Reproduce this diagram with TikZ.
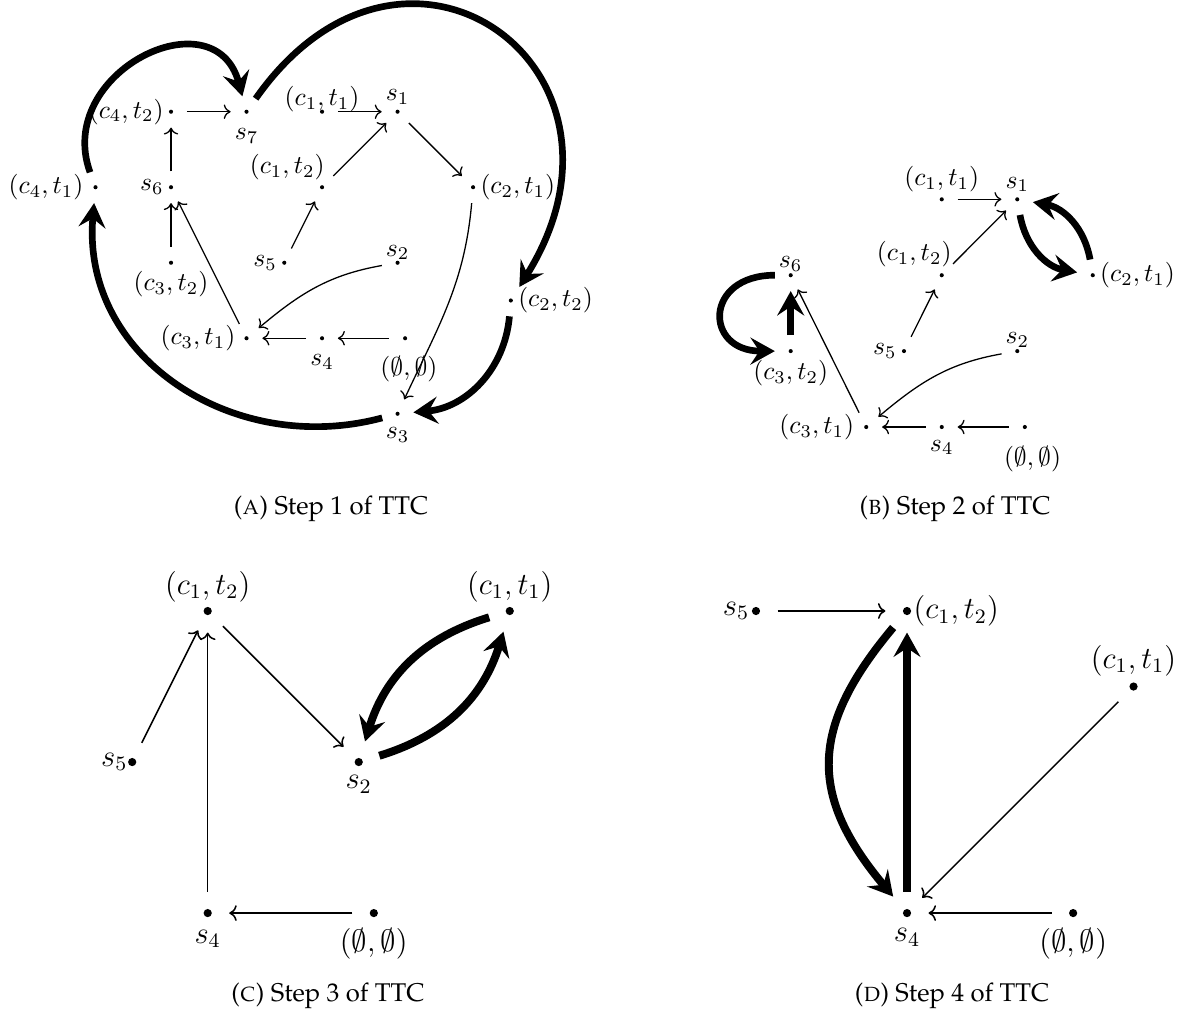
\documentclass[tikz,border=0pt]{standalone}
\usepackage{amsmath}
\usepackage{amssymb}
\usepackage[T1,TU]{fontenc}
\usepackage{tikz}
\usetikzlibrary{arrows.meta}

\newcommand{\capfont}{\fontencoding{T1}\fontfamily{ppl}\selectfont}

\tikzset{
  vtx/.style={circle,inner sep=0pt,minimum size=12pt,
    path picture={\fill (path picture bounding box.center) circle (0.8pt);}},
  bvtx/.style={circle,inner sep=0pt,minimum size=16.4pt,
    path picture={\fill (path picture bounding box.center) circle (1.6pt);}},
  arr/.style={->,line width=0.5pt},
  cyc/.style={-{Stealth[length=9.5pt,width=10.5pt,inset=3.5pt]},line width=2.6pt},
  capt/.style={anchor=base,font=\capfont},
  every label/.style={inner sep=1pt}
}

\begin{document}
\begin{tikzpicture}[x=0.39pt,y=-0.39pt,label distance=-4.5pt]
  \useasboundingbox (0,0) rectangle (1185,1011);

  % (a) step 1
  \begin{scope}[shift={(95.5,111.7)},x=29.45pt,y=29.45pt]
    \node[vtx,label={[label distance=-2.7pt]left:{$(c_4,t_1)$}}] (c4t1) at (0,-1) {};
    \node[vtx,label=left:{$(c_4,t_2)$}] (c4t2) at (1,0) {};
    \node[vtx,label={[label distance=-1pt]below:{$s_7$}}] (s7) at (2,0) {};
    \node[vtx,label={[label distance=-7.5pt]above:{$(c_1,t_1)$}}] (c1t1) at (3,0) {};
    \node[vtx,label=above:{$s_1$}] (s1) at (4,0) {};
    \node[vtx,label=left:{$s_6$}] (s6) at (1,-1) {};
    \node[vtx,label={[xshift=3.4pt,yshift=0.3pt]above left:{$(c_1,t_2)$}}] (c1t2) at (3,-1) {};
    \node[vtx,label=right:{$(c_2,t_1)$}] (c2t1) at (5,-1) {};
    \node[vtx,label={[label distance=-4pt]below:{$(c_3,t_2)$}}] (c3t2) at (1,-2) {};
    \node[vtx,label=left:{$s_5$}] (s5) at (2.5,-2) {};
    \node[vtx,label={[label distance=-6.3pt]above:{$s_2$}}] (s2) at (4,-2) {};
    \node[vtx,label=right:{$(c_2,t_2)$}] (c2t2) at (5.5,-2.5) {};
    \node[vtx,label={[label distance=-3pt]left:{$(c_3,t_1)$}}] (c3t1) at (2,-3) {};
    \node[vtx,label={[label distance=-1pt]below:{$s_4$}}] (s4) at (3,-3) {};
    \node[vtx,label={[label distance=-0.5pt,xshift=1.5pt]below:{$(\emptyset,\emptyset)$}}] (e) at (4.1,-3) {};
    \node[vtx,label={[label distance=-2pt]below:{$s_3$}}] (s3) at (4,-4) {};

    \draw[arr] (c4t2) -- (s7);
    \draw[arr] (c1t1) -- (s1);
    \draw[arr] (c1t2) -- (s1);
    \draw[arr] (s1) -- (c2t1);
    \draw[arr] (s6) -- (c4t2);
    \draw[arr] (c3t2) -- (s6);
    \draw[arr] (c3t1) -- (s6);
    \draw[arr] (s5) -- (c1t2);
    \draw[arr] (s4) -- (c3t1);
    \draw[arr] (e) -- (s4);
    \draw[arr] (s2) to[out=190,in=40] (c3t1);
    \draw[arr] (c2t1) to[out=265,in=65] (s3);

    \draw[cyc] (c4t1) to[out=110,in=105,looseness=1.6] (s7);
    \draw[cyc] (s7) to[out=55,in=58,looseness=2.05] (c2t2);
    \draw[cyc] (c2t2) to[bend left=40] (s3);
    \draw[cyc] (s3) to[out=195,in=265,looseness=1.1] (c4t1);
  \end{scope}
  \node[capt] (capA) at (331,514) {(\textsc{a}) Step 1 of TTC};

  % (b) step 2
  \begin{scope}[shift={(715.2,199.3)},x=29.45pt,y=29.6pt]
    \node[vtx,label=above:{$(c_1,t_1)$}] (c1t1) at (3,0) {};
    \node[vtx,label=above:{$s_1$}] (s1) at (4,0) {};
    \node[vtx,label={[label distance=-6pt]above:{$s_6$}}] (s6) at (1,-1) {};
    \node[vtx,label={[xshift=6.2pt,yshift=0.8pt]above left:{$(c_1,t_2)$}}] (c1t2) at (3,-1) {};
    \node[vtx,label=right:{$(c_2,t_1)$}] (c2t1) at (5,-1) {};
    \node[vtx,label={[label distance=-3.7pt]below:{$(c_3,t_2)$}}] (c3t2) at (1,-2) {};
    \node[vtx,label=left:{$s_5$}] (s5) at (2.5,-2) {};
    \node[vtx,label={[label distance=-6pt]above:{$s_2$}}] (s2) at (4,-2) {};
    \node[vtx,label={[label distance=-2.7pt]left:{$(c_3,t_1)$}}] (c3t1) at (2,-3) {};
    \node[vtx,label={[label distance=-2.3pt]below:{$s_4$}}] (s4) at (3,-3) {};
    \node[vtx,label={[label distance=0pt,xshift=3pt]below:{$(\emptyset,\emptyset)$}}] (e) at (4.1,-3) {};

    \draw[arr] (c1t1) -- (s1);
    \draw[arr] (c1t2) -- (s1);
    \draw[arr] (s5) -- (c1t2);
    \draw[arr] (c3t1) -- (s6);
    \draw[arr] (s4) -- (c3t1);
    \draw[arr] (e) -- (s4);
    \draw[arr] (s2) to[out=190,in=40] (c3t1);

    \draw[cyc] (s1) to[bend right=35] (c2t1);
    \draw[cyc] (c2t1) to[bend right=35] (s1);
    \draw[cyc] (c3t2) -- (s6);
    \draw[cyc] (s6) to[out=180,in=180,looseness=2.4] (c3t2);
  \end{scope}
  \node[capt] (capB) at (955,514) {(\textsc{b}) Step 2 of TTC};

  % (c) step 3
  \begin{scope}[shift={(207.7,611)},x=29.45pt,y=29.45pt,label distance=-5pt,
      every label/.append style={font=\large},
      arr/.append style={line width=0.6pt},cyc/.append style={line width=3.1pt}]
    \node[bvtx,label={[label distance=-6pt]above:{$(c_1,t_2)$}}] (c1t2) at (0,0) {};
    \node[bvtx,label={[label distance=-6pt]above:{$(c_1,t_1)$}}] (c1t1) at (4,0) {};
    \node[bvtx,label={[label distance=-7.8pt]left:{$s_5$}}] (s5) at (-1,-2) {};
    \node[bvtx,label={[label distance=-4.3pt]below:{$s_2$}}] (s2) at (2,-2) {};
    \node[bvtx,label={[label distance=-3pt]below:{$s_4$}}] (s4) at (0,-4) {};
    \node[bvtx,label={[label distance=-3.5pt]below:{$(\emptyset,\emptyset)$}}] (e) at (2.2,-4) {};

    \draw[arr] (s5) -- (c1t2);
    \draw[arr] (s4) -- (c1t2);
    \draw[arr] (c1t2) -- (s2);
    \draw[arr] (e) -- (s4);

    \draw[cyc] (c1t1) to[bend right=28] (s2);
    \draw[cyc] (s2) to[bend right=28] (c1t1);
  \end{scope}
  \node[capt] (capC) at (328,1001) {(\textsc{c}) Step 3 of TTC};

  % (d) step 4
  \begin{scope}[shift={(907,611)},x=29.45pt,y=29.45pt,label distance=-5pt,
      every label/.append style={font=\large},
      arr/.append style={line width=0.6pt},cyc/.append style={line width=3.1pt}]
    \node[bvtx,label={[label distance=-7pt]left:{$s_5$}}] (s5) at (-2,0) {};
    \node[bvtx,label={[label distance=-7pt]right:{$(c_1,t_2)$}}] (c1t2) at (0,0) {};
    \node[bvtx,label={[label distance=-5.5pt]above:{$(c_1,t_1)$}}] (c1t1) at (3,-1) {};
    \node[bvtx,label={[label distance=-3.5pt]below:{$s_4$}}] (s4) at (0,-4) {};
    \node[bvtx,label={[label distance=-3.5pt]below:{$(\emptyset,\emptyset)$}}] (e) at (2.2,-4) {};

    \draw[arr] (s5) -- (c1t2);
    \draw[arr] (c1t1) -- (s4);
    \draw[arr] (e) -- (s4);

    \draw[cyc] (s4) -- (c1t2);
    \draw[cyc] (c1t2) to[bend right=40,looseness=1.25] (s4);
  \end{scope}
  \node[capt] (capD) at (952,1001) {(\textsc{d}) Step 4 of TTC};
\end{tikzpicture}
\end{document}
